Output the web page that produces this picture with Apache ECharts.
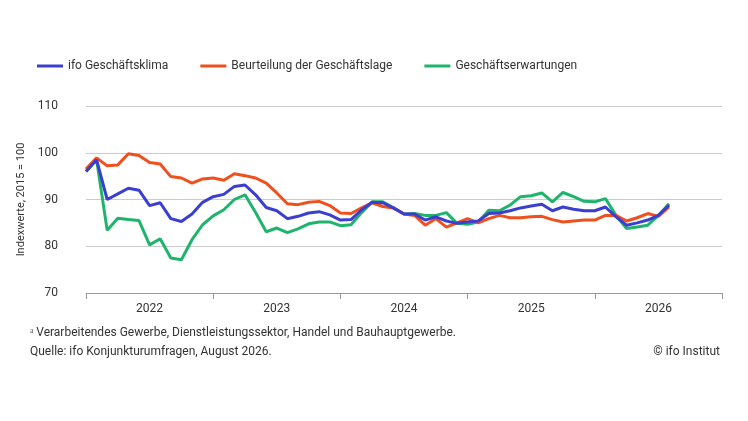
<!DOCTYPE html><html><head><meta charset="utf-8"><script src="https://cdn.jsdelivr.net/npm/echarts@6/dist/echarts.min.js"></script>
<style>body{margin:0}#c{width:748px;height:421px}</style></head><body><div id="c"></div><script>
const months=[];for(let y=2022;y<=2026;y++)for(let m=1;m<=12;m++)months.push(y+'-'+String(m).padStart(2,'0'));
months.push('2027-01');
const yTicks=[70,80,90,100,110];
const klima=[96,98.5,90,91.2,92.4,92.0,88.7,89.3,85.9,85.3,86.9,89.4,90.6,91.1,92.8,93.1,91.0,88.3,87.6,85.9,86.4,87.1,87.4,86.7,85.6,85.7,87.8,89.4,89.3,88.2,86.9,86.9,85.6,86.3,85.4,84.9,85.2,85.4,87.0,87.1,87.6,88.2,88.6,89.0,87.6,88.4,87.9,87.6,87.6,88.4,86.3,84.5,85.0,85.6,86.6,88.8];
const lage=[96.5,98.9,97.2,97.4,99.8,99.4,97.9,97.6,94.9,94.6,93.5,94.4,94.6,94.1,95.5,95.1,94.6,93.5,91.4,89.1,88.9,89.4,89.6,88.7,87.1,87.0,88.2,89.3,88.5,88.2,86.9,86.6,84.5,85.9,84.1,85.0,85.9,85.0,85.9,86.6,86.1,86.1,86.3,86.4,85.7,85.2,85.4,85.6,85.6,86.6,86.6,85.4,86.1,87.0,86.4,88.4];
const erw=[96,98.5,83.4,86,85.7,85.5,80.3,81.6,77.5,77.1,81.4,84.6,86.5,87.8,90,91,87.2,83.1,83.9,82.9,83.7,84.8,85.2,85.2,84.4,84.6,87.2,89.5,89.5,88.2,86.9,87.0,86.6,86.6,87.2,84.9,84.7,85.2,87.7,87.6,88.8,90.6,90.8,91.4,89.5,91.5,90.6,89.6,89.5,90.2,86.6,83.8,84.1,84.5,86.6,89.1];
const names=['ifo Geschäftsklima','Beurteilung der Geschäftslage','Geschäftserwartungen'];
const colors=['#3b3fd1','#f0501e','#1fb46c'];
const ch=echarts.init(document.getElementById('c'));
const F='Roboto';
ch.setOption({animation:false,textStyle:{fontFamily:F},
legend:{left:32,top:55,itemWidth:26,itemHeight:3,itemGap:32,icon:'rect',textStyle:{fontSize:12,color:'#333',fontFamily:F},data:names},
grid:{left:86,right:26,top:106,bottom:128},
xAxis:{type:'category',data:months,boundaryGap:false,axisLine:{lineStyle:{color:'#999'}},
 axisTick:{interval:(i)=>i%12===0,length:6,lineStyle:{color:'#999'}},
 axisLabel:{interval:(i)=>i%12===6,formatter:v=>v.slice(0,4),color:'#333',fontSize:12,margin:10}},
yAxis:{type:'value',min:70,max:110,interval:10,name:'Indexwerte, 2015 = 100',nameLocation:'middle',nameGap:54,nameTextStyle:{fontSize:11,color:'#333'},
 axisLabel:{color:'#333',fontSize:12,margin:28},splitLine:{lineStyle:{color:'#ccc'}},axisLine:{show:false},axisTick:{show:false}},
series:[klima,lage,erw].map((d,i)=>({name:names[i],type:'line',data:d,symbol:'none',lineStyle:{width:3,color:colors[i]},itemStyle:{color:colors[i]},z:3-i})),
graphic:[
{type:'text',left:30,top:327,style:{text:'ᵃ Verarbeitendes Gewerbe, Dienstleistungssektor, Handel und Bauhauptgewerbe.',fontSize:12,fill:'#333',fontFamily:F}},
{type:'text',left:30,top:346,style:{text:'Quelle: ifo Konjunkturumfragen, August 2026.',fontSize:12,fill:'#333',fontFamily:F}},
{type:'text',right:28,top:346,style:{text:'© ifo Institut',fontSize:12,fill:'#333',fontFamily:F}}
]});
</script></body></html>
